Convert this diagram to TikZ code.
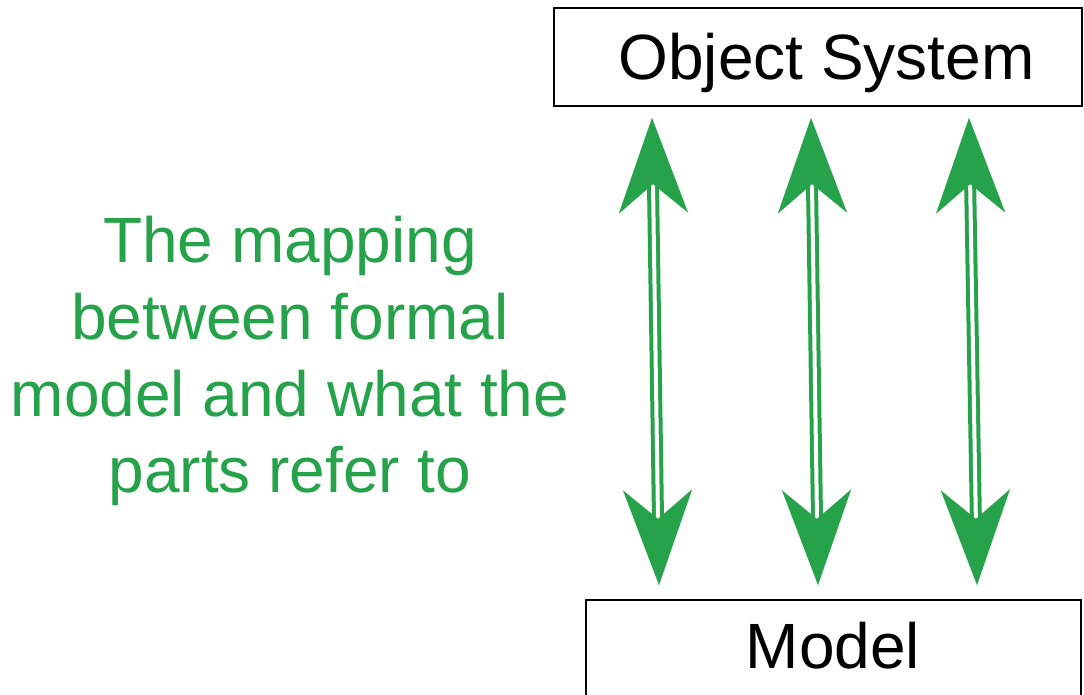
\documentclass[tikz,border=0pt]{standalone}
\usepackage{fontspec}
\setmainfont{Liberation Sans}
\usetikzlibrary{arrows.meta}
\definecolor{mapgreen}{RGB}{38,163,74}
\tikzset{
  boxframe/.style={draw=black, line width=2.2pt, inner sep=0pt, fill=white},
  boxtext/.style={font=\fontsize{64}{76.7}\selectfont, inner sep=0pt, anchor=base},
  maparrow/.style={draw=mapgreen, line width=4pt, double=white, double distance=4pt,
    {Stealth[length=95pt, width=69pt, inset=29pt, line width=0.01pt]}-{Stealth[length=95pt, width=69pt, inset=29pt, line width=0.01pt]}},
  caption/.style={text=mapgreen, font=\fontsize{64}{76.7}\selectfont, align=center, inner sep=0pt}
}
\begin{document}
\begin{tikzpicture}[x=1pt, y=1pt]
  \useasboundingbox (0,0) rectangle (1084,695);
  % upper and lower boxes
  \node[boxframe, minimum width=528pt, minimum height=98pt] (objsys) at (818,638) {};
  \node[boxtext] (objsyslabel) at (826.5,615) {Object System};
  \node[boxframe, minimum width=495pt, minimum height=110pt] (model) at (833.5,40) {};
  \node[boxtext] (modellabel) at (833,26) {Model};
  % arrow end points just off the box edges
  \coordinate (t1) at (652,577);
  \coordinate (b1) at (659,110);
  \coordinate (t2) at (811,577);
  \coordinate (b2) at (818,110);
  \coordinate (t3) at (969,577);
  \coordinate (b3) at (977,110);
  \draw[maparrow] (b1) -- (t1);
  \draw[maparrow] (b2) -- (t2);
  \draw[maparrow] (b3) -- (t3);
  % caption (base anchor sits on the last line)
  \node[caption, anchor=base] (mapping) at (290,202) {The mapping\\between formal\\model and what the\\parts refer to};
\end{tikzpicture}
\end{document}
